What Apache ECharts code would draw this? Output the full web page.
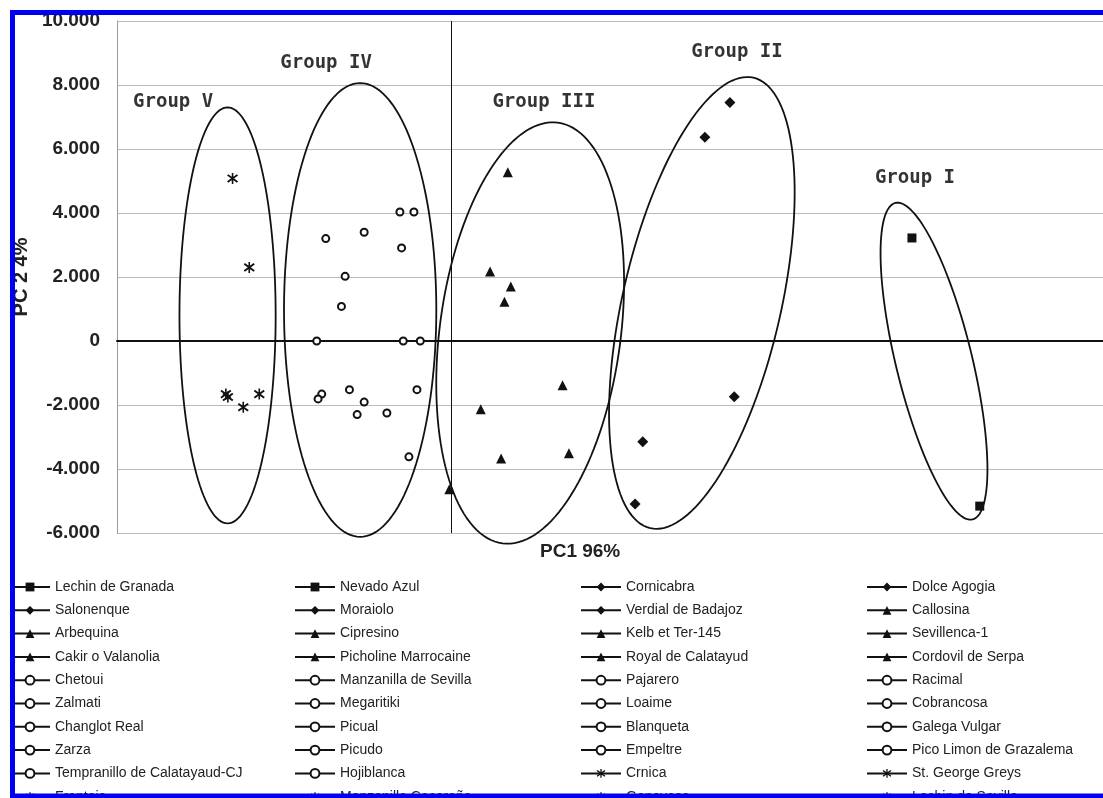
<!DOCTYPE html>
<html>
<head>
<meta charset="utf-8">
<script src="https://cdn.jsdelivr.net/npm/echarts@6/dist/echarts.min.js"></script>
<style>
  html, body { margin: 0; padding: 0; background: #fff; }
  #chart { width: 1103px; height: 798px; }
</style>
</head>
<body>
<div id="chart"></div>
<script>
// cultivars per group, PC1 / PC2 scores
const group1Names = ['Lechin de Granada', 'Nevado Azul'];
const group1PC1 = [13.80, 15.83];
const group1PC2 = [3.22, -5.16];

const group2Names = ['Cornicabra', 'Dolce Agogia', 'Salonenque', 'Moraiolo', 'Verdial de Badajoz'];
const group2PC1 = [8.35, 7.60, 8.48, 5.74, 5.51];
const group2PC2 = [7.45, 6.37, -1.74, -3.15, -5.09];

const group3Names = ['Callosina', 'Arbequina', 'Cipresino', 'Kelb et Ter-145', 'Sevillenca-1',
  'Cakir o Valanolia', 'Picholine Marrocaine', 'Royal de Calatayud', 'Cordovil de Serpa'];
const group3PC1 = [1.70, 1.17, 1.79, 1.60, 3.34, 0.89, 1.50, 3.53, -0.05];
const group3PC2 = [5.27, 2.17, 1.70, 1.23, -1.38, -2.13, -3.67, -3.51, -4.63];

const group4Names = ['Chetoui', 'Manzanilla de Sevilla', 'Pajarero', 'Racimal', 'Zalmati', 'Megaritiki',
  'Loaime', 'Cobrancosa', 'Changlot Real', 'Picual', 'Blanqueta', 'Galega Vulgar', 'Zarza', 'Picudo',
  'Empeltre', 'Pico Limon de Grazalema', 'Tempranillo de Calatayaud-CJ', 'Hojiblanca'];
const group4PC1 = [-1.53, -1.11, -3.75, -2.60, -1.48, -3.17, -3.28, -4.02, -1.43, -0.92,
  -3.87, -3.98, -3.04, -2.60, -2.81, -1.92, -1.02, -1.26];
const group4PC2 = [4.03, 4.03, 3.20, 3.40, 2.91, 2.02, 1.08, 0, 0, 0,
  -1.66, -1.81, -1.52, -1.91, -2.30, -2.25, -1.52, -3.62];

const group5Names = ['Crnica', 'St. George Greys', 'Frantoio', 'Manzanilla Cacereña', 'Genovesa', 'Lechin de Sevilla'];
const group5PC1 = [-6.54, -6.04, -6.74, -6.68, -6.22, -5.74];
const group5PC2 = [5.08, 2.30, -1.66, -1.75, -2.07, -1.66];

// group ellipses: centre, half width (PC1 units), half height (PC2 units), tilt in degrees
const groupLabels = ['Group I', 'Group II', 'Group III', 'Group IV', 'Group V'];
const ellipseCX = [14.46, 7.51, 2.37, -2.72, -6.69];
const ellipseCY = [-0.63, 1.19, 0.25, 0.97, 0.80];
const ellipseHalfW = [1.14, 2.37, 2.71, 2.28, 1.44];
const ellipseHalfH = [5.09, 7.22, 6.63, 7.09, 6.50];
const ellipseTilt = [-13.7, 12.9, 7.5, 0, 0];
const labelX = [13.89, 8.56, 2.78, -3.74, -8.32];
const labelY = [5.09, 9.03, 7.47, 8.69, 7.47];

const yTicks = [-6, -4, -2, 0, 2, 4, 6, 8, 10];

const asterisk = 'path://M8.6,0L11.4,0L11.4,20L8.6,20Z M0.4,4.8L2.4,2.2L19.6,15.2L17.6,17.8Z M17.6,2.2L19.6,4.8L2.4,17.8L0.4,15.2Z';

const groups = [
  { names: group1Names, pc1: group1PC1, pc2: group1PC2, symbol: 'rect', size: 9 },
  { names: group2Names, pc1: group2PC1, pc2: group2PC2, symbol: 'diamond', size: 11 },
  { names: group3Names, pc1: group3PC1, pc2: group3PC2, symbol: 'triangle', size: 10 },
  { names: group4Names, pc1: group4PC1, pc2: group4PC2, symbol: 'emptyCircle', size: 7 },
  { names: group5Names, pc1: group5PC1, pc2: group5PC2, symbol: asterisk, size: 11 }
];

const series = [];
const allNames = [];
groups.forEach(g => {
  g.names.forEach((n, i) => {
    allNames.push(n);
    series.push({
      name: n,
      type: 'line',
      data: [[g.pc1[i], g.pc2[i]]],
      symbol: g.symbol,
      symbolSize: g.size,
      showSymbol: true,
      itemStyle: { color: '#111', borderWidth: g.symbol === 'emptyCircle' ? 1.8 : 0 },
      lineStyle: { color: '#111', width: 1.5 },
      z: 5
    });
  });
});

function renderEllipse(params, api) {
  const c = api.coord([api.value(0), api.value(1)]);
  const unit = api.size([1, 1]);
  const b = api.value(2) * unit[0];
  const a = api.value(3) * unit[1];
  const t = api.value(4) * Math.PI / 180;
  const pts = [];
  for (let k = 0; k < 144; k++) {
    const ang = k / 144 * 2 * Math.PI;
    const u = b * Math.cos(ang), v = a * Math.sin(ang);
    pts.push([c[0] + u * Math.cos(t) + v * Math.sin(t), c[1] + u * Math.sin(t) - v * Math.cos(t)]);
  }
  return {
    type: 'polygon',
    shape: { points: pts },
    style: { fill: 'none', stroke: '#111', lineWidth: 1.8 }
  };
}

series.push({
  type: 'custom',
  renderItem: renderEllipse,
  encode: { x: 0, y: 1 },
  data: ellipseCX.map((x, i) => [x, ellipseCY[i], ellipseHalfW[i], ellipseHalfH[i], ellipseTilt[i]]),
  z: 4,
  silent: true
});

series.push({
  type: 'scatter',
  symbolSize: 0,
  data: groupLabels.map((n, i) => ({ name: n, value: [labelX[i], labelY[i]] })),
  label: {
    show: true,
    position: 'inside',
    formatter: '{b}',
    fontFamily: 'DejaVu Sans Mono',
    fontWeight: 'bold',
    fontSize: 19,
    color: '#000'
  },
  markLine: {
    silent: true,
    symbol: 'none',
    label: { show: false },
    lineStyle: { color: '#111', width: 1, type: 'solid' },
    data: [{ xAxis: 0 }]
  },
  z: 6,
  silent: true
});

const legendLeft = [9, 294, 580, 866];
const legends = [0, 1, 2, 3].map(c => ({
  orient: 'vertical',
  left: legendLeft[c],
  top: 580,
  height: 260,
  padding: 0,
  itemWidth: 40,
  itemHeight: 11,
  itemGap: 9.3,
  selectedMode: false,
  data: allNames.filter((_, i) => i % 4 === c),
  textStyle: { fontFamily: 'Liberation Sans', fontSize: 14, color: '#222' }
}));

const chart = echarts.init(document.getElementById('chart'));
chart.setOption({
  animation: false,
  backgroundColor: '#fff',
  grid: { left: 117, right: 0, top: 21, bottom: 265 },
  xAxis: {
    type: 'value',
    min: -10,
    max: 19.52,
    axisLine: { show: true, onZero: true, lineStyle: { color: '#111', width: 2 } },
    axisTick: { show: false },
    axisLabel: { show: false },
    splitLine: { show: false }
  },
  yAxis: {
    type: 'value',
    min: yTicks[0],
    max: yTicks[yTicks.length - 1],
    interval: 2,
    axisLine: { show: true, onZero: false, lineStyle: { color: '#999', width: 1 } },
    axisTick: { show: false },
    splitLine: { lineStyle: { color: '#bbb', width: 1 } },
    axisLabel: {
      formatter: v => (v === 0 ? '0' : v.toFixed(3)),
      fontFamily: 'Liberation Sans',
      fontWeight: 'bold',
      fontSize: 19,
      color: '#222',
      margin: 17
    },
    name: 'PC 2 4%',
    nameLocation: 'middle',
    nameGap: 82,
    nameTextStyle: { fontFamily: 'Liberation Sans', fontWeight: 'bold', fontSize: 20, color: '#222' }
  },
  legend: legends,
  graphic: [
    { type: 'text', left: 540, top: 542, style: { text: 'PC1 96%', font: 'bold 19px "Liberation Sans"', fill: '#222' }, z: 50 },
    { type: 'rect', shape: { x: 0, y: 0, width: 1103, height: 10 }, style: { fill: '#fff' }, z: 100 },
    { type: 'rect', shape: { x: 0, y: 0, width: 10, height: 798 }, style: { fill: '#fff' }, z: 100 },
    { type: 'rect', shape: { x: 12.5, y: 12.5, width: 1200, height: 783.5 }, style: { fill: 'none', stroke: '#0000ee', lineWidth: 5 }, z: 101 }
  ],
  series: series
});
</script>
</body>
</html>
